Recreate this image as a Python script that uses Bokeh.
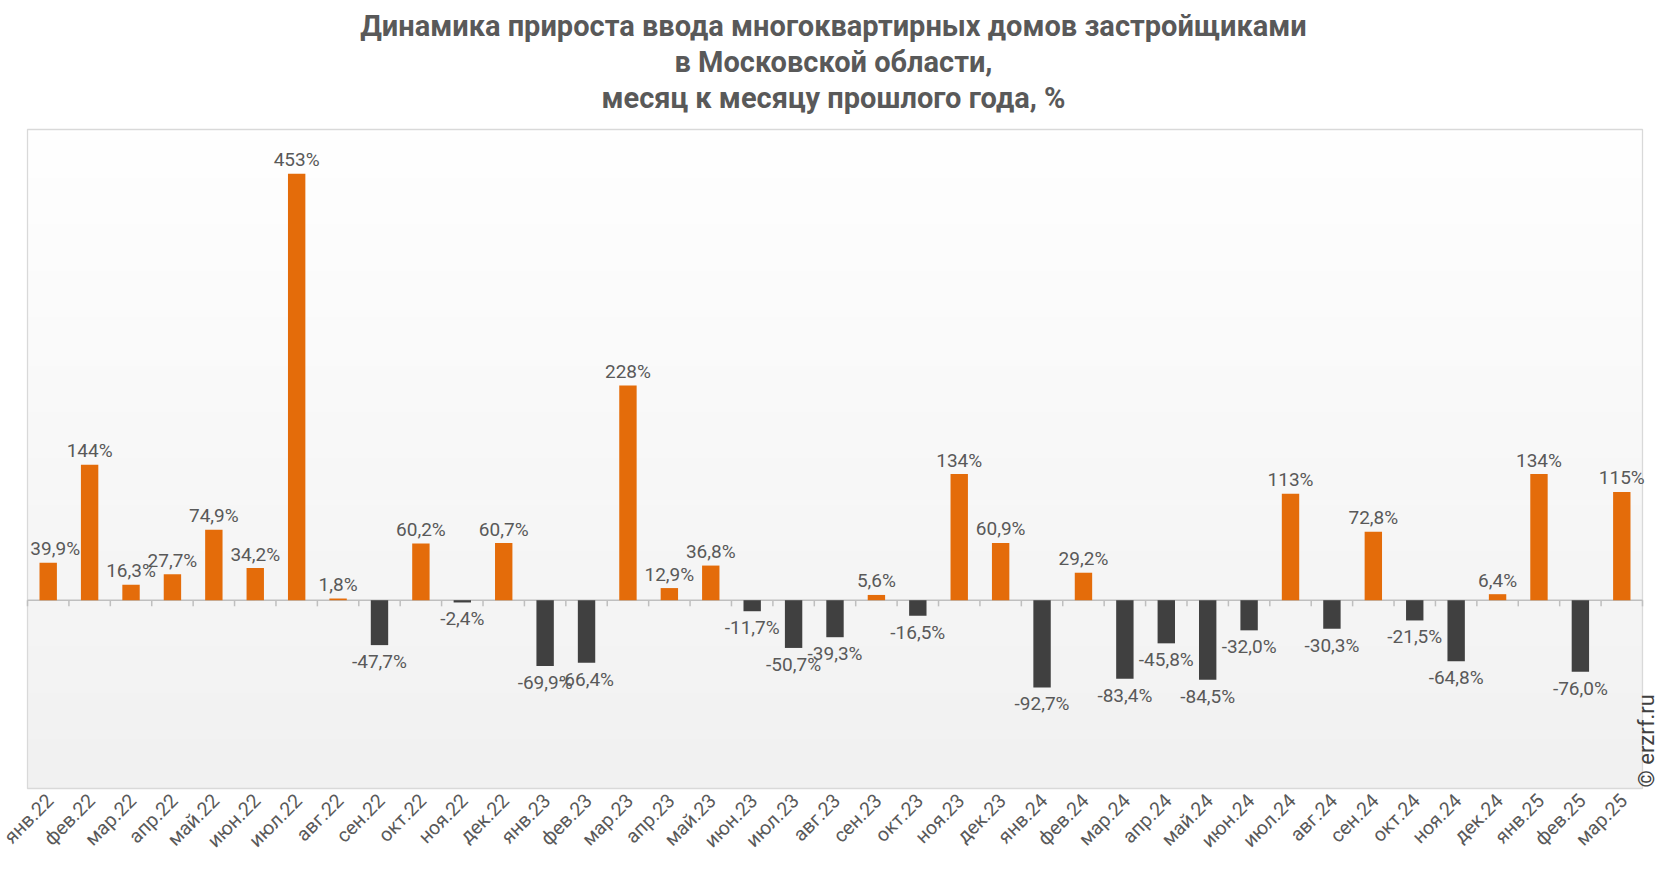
import numpy as np
from bokeh.plotting import figure
from bokeh.models import Range1d, ColumnDataSource
from bokeh.core.properties import value
from bokeh.embed import file_html
from bokeh.resources import INLINE

months = ["янв.22", "фев.22", "мар.22", "апр.22", "май.22", "июн.22", "июл.22", "авг.22",
          "сен.22", "окт.22", "ноя.22", "дек.22", "янв.23", "фев.23", "мар.23", "апр.23",
          "май.23", "июн.23", "июл.23", "авг.23", "сен.23", "окт.23", "ноя.23", "дек.23",
          "янв.24", "фев.24", "мар.24", "апр.24", "май.24", "июн.24", "июл.24", "авг.24",
          "сен.24", "окт.24", "ноя.24", "дек.24", "янв.25", "фев.25", "мар.25"]
values = [39.9, 144, 16.3, 27.7, 74.9, 34.2, 453, 1.8,
          -47.7, 60.2, -2.4, 60.7, -69.9, -66.4, 228, 12.9,
          36.8, -11.7, -50.7, -39.3, 5.6, -16.5, 134, 60.9,
          -92.7, 29.2, -83.4, -45.8, -84.5, -32.0, 113, -30.3,
          72.8, -21.5, -64.8, 6.4, 134, -76.0, 115]

title_lines = ["Динамика прироста ввода многоквартирных домов застройщиками",
               "в Московской области,",
               "месяц к месяцу прошлого года, %"]
source_note = "© erzrf.ru"

ORANGE = "#E46C0A"
DARK = "#404040"
TXT = "#595959"
FONT = "Roboto"
Y0, Y1 = -200, 500          # value range of the plot area

# ---- page geometry (pixels) ----
W, H = 1658, 864
AREA_L, AREA_T, AREA_W, AREA_H = 27, 129, 1615, 659

n = len(months)
cat_px = AREA_W / n
ppu = AREA_H / (Y1 - Y0)


def xpx(px):
    return (px - AREA_L) / cat_px


def ypx(py):
    return Y1 + (AREA_T - py) / ppu


def fmt(v):
    if abs(v) >= 100:
        return f"{v:.0f}%"
    return f"{v:.1f}".replace(".", ",") + "%"


xc = [i + 0.5 for i in range(n)]
colors = [ORANGE if v >= 0 else DARK for v in values]
labels = [fmt(v) for v in values]

p = figure(width=W, height=H, x_range=Range1d(xpx(0), xpx(W)), y_range=Range1d(ypx(H), ypx(0)),
           output_backend="svg", toolbar_location=None, title=None,
           min_border_left=0, min_border_right=0, min_border_top=0, min_border_bottom=0)
p.background_fill_color = "white"
p.border_fill_color = "white"
p.outline_line_color = None
p.grid.visible = False
p.xaxis.visible = False
p.yaxis.visible = False

# title
title_base = [25, 61, 97]
p.text(x=[xpx(833)] * 3, y=[ypx(b) for b in title_base], text=title_lines,
       text_align="center", text_baseline="alphabetic", text_font=value(FONT),
       text_font_size="29px", text_font_style="bold", text_color=TXT)

# background gradient of the plot area
rows = 256
img = np.empty((rows, 1), dtype=np.uint32)
view = img.view(dtype=np.uint8).reshape((rows, 1, 4))
g = np.linspace(241, 255, rows).astype(np.uint8)
view[:, 0, 0] = g
view[:, 0, 1] = g
view[:, 0, 2] = g
view[:, 0, 3] = 255
p.image_rgba(image=[img], x=0, y=Y0, dw=n, dh=Y1 - Y0)
p.quad(left=0, right=n, bottom=Y0, top=Y1, fill_color=None, line_color="#d9d9d9", line_width=1.3)

# zero line and ticks at category boundaries
p.segment(x0=[0], y0=[0], x1=[n], y1=[0], line_color="#bfbfbf", line_width=1.5)
bounds = list(range(n + 1))
p.segment(x0=bounds, y0=[0] * len(bounds), x1=bounds, y1=[-6.5] * len(bounds),
          line_color="#bfbfbf", line_width=1.5)

src = ColumnDataSource(dict(x=xc, top=values, color=colors, label=labels))
p.vbar(x="x", top="top", bottom=0, width=0.42, fill_color="color", line_color=None, source=src)

# value labels (the first one is nudged to stay inside the plot area)
x_off = [7 if i == 0 else 0 for i in range(n)]
pos = ColumnDataSource(dict(x=[x for x, v in zip(xc, values) if v >= 0],
                            y=[v for v in values if v >= 0],
                            t=[l for l, v in zip(labels, values) if v >= 0],
                            dx=[o for o, v in zip(x_off, values) if v >= 0]))
neg = ColumnDataSource(dict(x=[x for x, v in zip(xc, values) if v < 0],
                            y=[v for v in values if v < 0],
                            t=[l for l, v in zip(labels, values) if v < 0]))
p.text(x="x", y="y", text="t", source=pos, text_align="center", text_baseline="alphabetic",
       x_offset="dx", y_offset=-14, text_font=value(FONT), text_font_size="19px", text_color=TXT)
p.text(x="x", y="y", text="t", source=neg, text_align="center", text_baseline="top",
       y_offset=5, text_font=value(FONT), text_font_size="19px", text_color=TXT)

# category labels under the plot area, rotated 45 degrees
cat = ColumnDataSource(dict(x=xc, y=[Y0] * n, t=months))
p.text(x="x", y="y", text="t", source=cat, angle=np.pi / 4, text_align="right",
       text_baseline="middle", x_offset=2, y_offset=9, text_font=value(FONT),
       text_font_size="19.5px", text_color=TXT)

# source note
p.text(x=[xpx(1646)], y=[ypx(787)], text=[source_note], angle=np.pi / 2, text_align="left",
       text_baseline="middle", text_font=value(FONT), text_font_size="22px", text_color=DARK)

open("out.html", "w").write(file_html(p, INLINE))
